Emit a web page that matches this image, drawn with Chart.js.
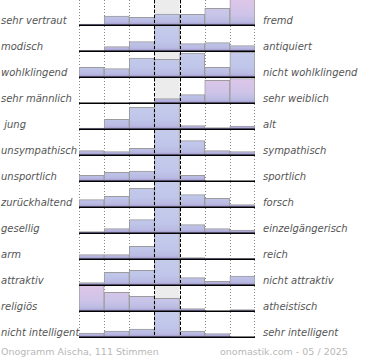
<!DOCTYPE html>
<html>
<head>
<meta charset="utf-8">
<script src="https://cdn.jsdelivr.net/npm/chart.js@4.4.1/dist/chart.umd.min.js"></script>
<style>
  html,body{margin:0;padding:0;background:#fff;}
  #wrap{position:relative;width:370px;height:360px;overflow:hidden;font-family:"DejaVu Sans",sans-serif;}
  .row{position:absolute;left:79px;width:176px;height:26px;}
  .lab{position:absolute;font-size:10px;font-style:italic;color:#555;line-height:12px;white-space:pre;}
  .foot{position:absolute;font-size:9.5px;color:#b8b8b8;line-height:12px;top:346px;white-space:pre;}
</style>
</head>
<body>
<div id="wrap">
  <div class="foot" style="left:1px">Onogramm Aischa, 111 Stimmen</div>
  <div class="foot" style="left:220px">onomastik.com - 05 / 2025</div>
</div>
<script>
const bins=['1','2','3','4','5','6','7'];
const leftLabels=['sehr vertraut','modisch','wohlklingend','sehr männlich',' jung','unsympathisch','unsportlich','zurückhaltend','gesellig','arm','attraktiv','religiös','nicht intelligent'];
const rightLabels=['fremd','antiquiert','nicht wohlklingend','sehr weiblich','alt','sympathisch','sportlich','forsch','einzelgängerisch','reich','nicht attraktiv','atheistisch','sehr intelligent'];

const vertraut     =[1,9,7.7,11,10.7,16.7,30];
const modisch      =[0.5,4.3,9.3,30,7.3,8.3,5.3];
const wohlklingend =[9.7,8.3,19,17.7,24,9.7,25];
const maennlich    =[0,0,0.4,4.3,8.3,22.7,24.5];
const jung         =[1,9.7,21.7,30,3.3,1.3,3];
const unsympathisch=[4.3,3.3,6.7,30,14.3,4.3,3.3];
const unsportlich  =[5.7,8.7,10,30,5.7,0,0];
const zurueck      =[7.3,10.7,18.7,30,12.3,8.7,2.3];
const gesellig     =[1.3,4.3,13.3,30,8.3,4.3,3];
const arm          =[4.3,4.3,12.7,30,1.3,1,0.3];
const attraktiv    =[2.3,12.7,14.7,30,7.3,3.7,9];
const religioes    =[30,18.7,14.7,12.7,2.3,0,1.3];
const intelligent  =[4,6,8,30,6,3.3,0];
const rows=[vertraut,modisch,wohlklingend,maennlich,jung,unsympathisch,unsportlich,zurueck,gesellig,arm,attraktiv,religioes,intelligent];

const AXMAX=25;
// rosa getönte Balken (Zeile-Stufe)
const pink={'0-6':1,'0-5':0.5,'3-5':1,'3-6':1,'11-0':1,'11-1':0.8,'11-2':0.6,'11-3':0.4};

function mix(a,b,t){return a.map((v,i)=>Math.round(v+(b[i]-v)*t));}
function rgb(c){return 'rgb('+c.join(',')+')';}

const gridPlugin={
  id:'grid',
  beforeDatasetsDraw(c){
    const {ctx,chartArea:a,scales:{x}}=c;
    const half=(x.getPixelForValue(1)-x.getPixelForValue(0))/2;
    ctx.save();
    ctx.fillStyle='#ececec';
    ctx.fillRect(x.getPixelForValue(3)-half,a.top,half*2,a.bottom-a.top);
    ctx.strokeStyle='#888';ctx.lineWidth=1;ctx.setLineDash([1,2]);
    for(let i=0;i<=7;i++){
      const px=Math.round(x.getPixelForValue(i)-half)+ (i===7?-0.5:0.5);
      ctx.beginPath();ctx.moveTo(px,0);ctx.lineTo(px,a.bottom);ctx.stroke();
    }
    ctx.restore();
  },
  afterDatasetsDraw(c){
    const {ctx,chartArea:a,scales:{x}}=c;
    const half=(x.getPixelForValue(1)-x.getPixelForValue(0))/2;
    ctx.save();
    ctx.strokeStyle='#000';ctx.lineWidth=1;ctx.setLineDash([3,2]);
    [3,4].forEach(i=>{
      const px=Math.round(x.getPixelForValue(i)-half)+0.5;
      ctx.beginPath();ctx.moveTo(px,0);ctx.lineTo(px,a.bottom);ctx.stroke();
    });
    ctx.setLineDash([]);ctx.lineWidth=1.5;
    ctx.beginPath();ctx.moveTo(a.left,a.bottom+0.25);ctx.lineTo(a.right,a.bottom+0.25);ctx.stroke();
    ctx.restore();
  }
};

const wrap=document.getElementById('wrap');
rows.forEach((vals,r)=>{
  const top=26*r;
  const L=document.createElement('div');L.className='lab';L.style.left='1px';L.style.top=(top+15)+'px';L.textContent=leftLabels[r];wrap.appendChild(L);
  const R=document.createElement('div');R.className='lab';R.style.left='263px';R.style.top=(top+15)+'px';R.textContent=rightLabels[r];wrap.appendChild(R);
  const box=document.createElement('div');box.className='row';box.style.top=top+'px';
  const cv=document.createElement('canvas');cv.width=176;cv.height=26;box.appendChild(cv);wrap.appendChild(box);

  new Chart(cv,{
    type:'bar',
    data:{labels:bins,datasets:[{data:vals,
      backgroundColor:ctx=>{
        const a=ctx.chart.chartArea;if(!a)return '#c4cae9';
        const t=pink[r+'-'+ctx.dataIndex]||0;
        const g=ctx.chart.ctx.createLinearGradient(0,a.top,0,a.bottom);
        g.addColorStop(0,rgb(mix([196,203,234],[222,198,232],t)));
        g.addColorStop(0.6,rgb(mix([192,198,234],[206,196,232],t)));
        g.addColorStop(0.88,rgb([186,186,226]));
        g.addColorStop(1,rgb([160,150,206]));
        return g;},
      borderColor:'#9c9c9c',borderWidth:{top:1,left:1,right:1,bottom:0},borderSkipped:'bottom',
      categoryPercentage:1,barPercentage:1}]},
    options:{responsive:false,animation:false,events:[],
      layout:{padding:{left:0,right:0,top:0,bottom:1}},
      plugins:{legend:{display:false},tooltip:{enabled:false}},
      scales:{x:{display:false},y:{display:false,min:0,max:AXMAX}}},
    plugins:[gridPlugin]
  });
});
</script>
</body>
</html>
